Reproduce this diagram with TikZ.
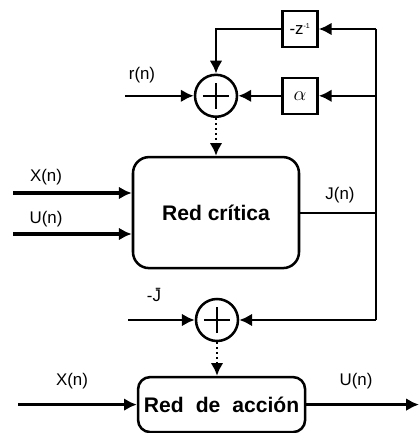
\documentclass[tikz,border=0pt]{standalone}
\usepackage{fontspec}
\setmainfont{Liberation Sans}
\usetikzlibrary{arrows.meta,positioning,calc}
\tikzset{
	bloque/.style={
		draw,
		line width=1.8pt,
		rounded corners=4mm,
		minimum width=4.15cm,
		minimum height=2.775cm,
		align=center,
		font=\fontsize{15}{18}\selectfont\bfseries
	},
	sumador/.style={
		draw,
		circle,
		line width=1.8pt,
		minimum size=1.05cm,
		inner sep=0pt,
		path picture={
			\draw[line width=1.8pt] (path picture bounding box.center) +(-0.33,0) -- +(0.33,0);
			\draw[line width=1.8pt] (path picture bounding box.center) +(0,-0.33) -- +(0,0.33);
		}
	},
	ganancia/.style={
		draw,
		line width=1.8pt,
		minimum width=0.875cm,
		minimum height=0.9cm,
		inner sep=2pt,
		font=\large
	},
	etiqueta/.style={
		font=\large
	},
	linea/.style={
		line width=1.8pt
	},
	flecha/.style={
		-{Latex[length=3.2mm,width=3.2mm]},
		line width=1.8pt
	},
	flechaGruesa/.style={
		-{Latex[length=3.2mm,width=3.2mm]},
		line width=2.6pt
	},
	flechaPunteada/.style={
		-{Latex[length=3.2mm,width=3.2mm]},
		line width=1.8pt,
		dash pattern=on 1.5pt off 2pt
	}
}

\begin{document}
\begin{tikzpicture}
		\useasboundingbox (0,0) rectangle (10.475,10.825);
		% bloques
		\node[bloque] (critica) at (5.4,5.51) {Red crítica};
		\node[bloque, minimum width=4.175cm, minimum height=1.375cm, rounded corners=3mm] (accion) at (5.54,0.71) {Red\hspace{3mm}de\hspace{3mm}acción};
		\node[sumador] (sumaA) at (5.4,8.43) {};
		\node[sumador] (sumaB) at (5.425,2.825) {};
		\node[ganancia] (retardo) at (7.5,10.1) {-z\textsuperscript{\tiny -1}};
		\node[ganancia] (alfa) at (7.5,8.43) {\Large$\alpha$};
		% puntos libres
		\coordinate (busSup) at (9.4,10.1);
		\coordinate (busInf) at (9.4,2.825);
		\coordinate (entR) at (3.125,8.43);
		\coordinate (entJ) at (3.2,2.825);
		\coordinate (entX) at (0.325,6.0);
		\coordinate (entU) at (0.325,4.975);
		\coordinate (entXa) at (0.45,0.71);
		\coordinate (salU) at (10.475,0.71);
		% conexiones
		\draw[line width=1.3pt] (critica.east) -- (critica.east -| busSup);
		\draw[linea] (busSup) -- (busInf);
		\draw[flecha] (busSup) -- (retardo.east);
		\draw[flecha] (retardo.west) -| (sumaA.north);
		\draw[flecha] (busSup |- alfa) -- (alfa.east);
		\draw[flecha] (alfa.west) -- (sumaA.east);
		\draw[flecha] (busInf) -- (sumaB.east);
		\draw[flecha] (entR) -- (sumaA.west);
		\draw[flecha] (entJ) -- (sumaB.west);
		\draw[flechaPunteada] (sumaA.south) -- (critica.north);
		\draw[flechaPunteada] (sumaB.south) -- (sumaB.south |- accion.north);
		\draw[flechaGruesa] (entX) -- (entX -| critica.west);
		\draw[flechaGruesa] (entU) -- (entU -| critica.west);
		\draw[flecha] (entXa) -- (accion.west);
		\draw[flecha] (accion.east) -- (salU);
		% etiquetas
		\node[etiqueta] (lblR) at (3.55,8.95) {r(n)};
		\node[etiqueta] (lblX) at (1.15,6.4) {X(n)};
		\node[etiqueta] (lblU) at (1.15,5.35) {U(n)};
		\node[etiqueta] (lblJ) at (8.5,5.95) {J(n)};
		\node[etiqueta] (lblJb) at (3.85,3.45) {-\={J}};
		\node[etiqueta] (lblXa) at (1.8,1.3) {X(n)};
		\node[etiqueta] (lblUa) at (8.9,1.3) {U(n)};
	\end{tikzpicture}
\end{document}
